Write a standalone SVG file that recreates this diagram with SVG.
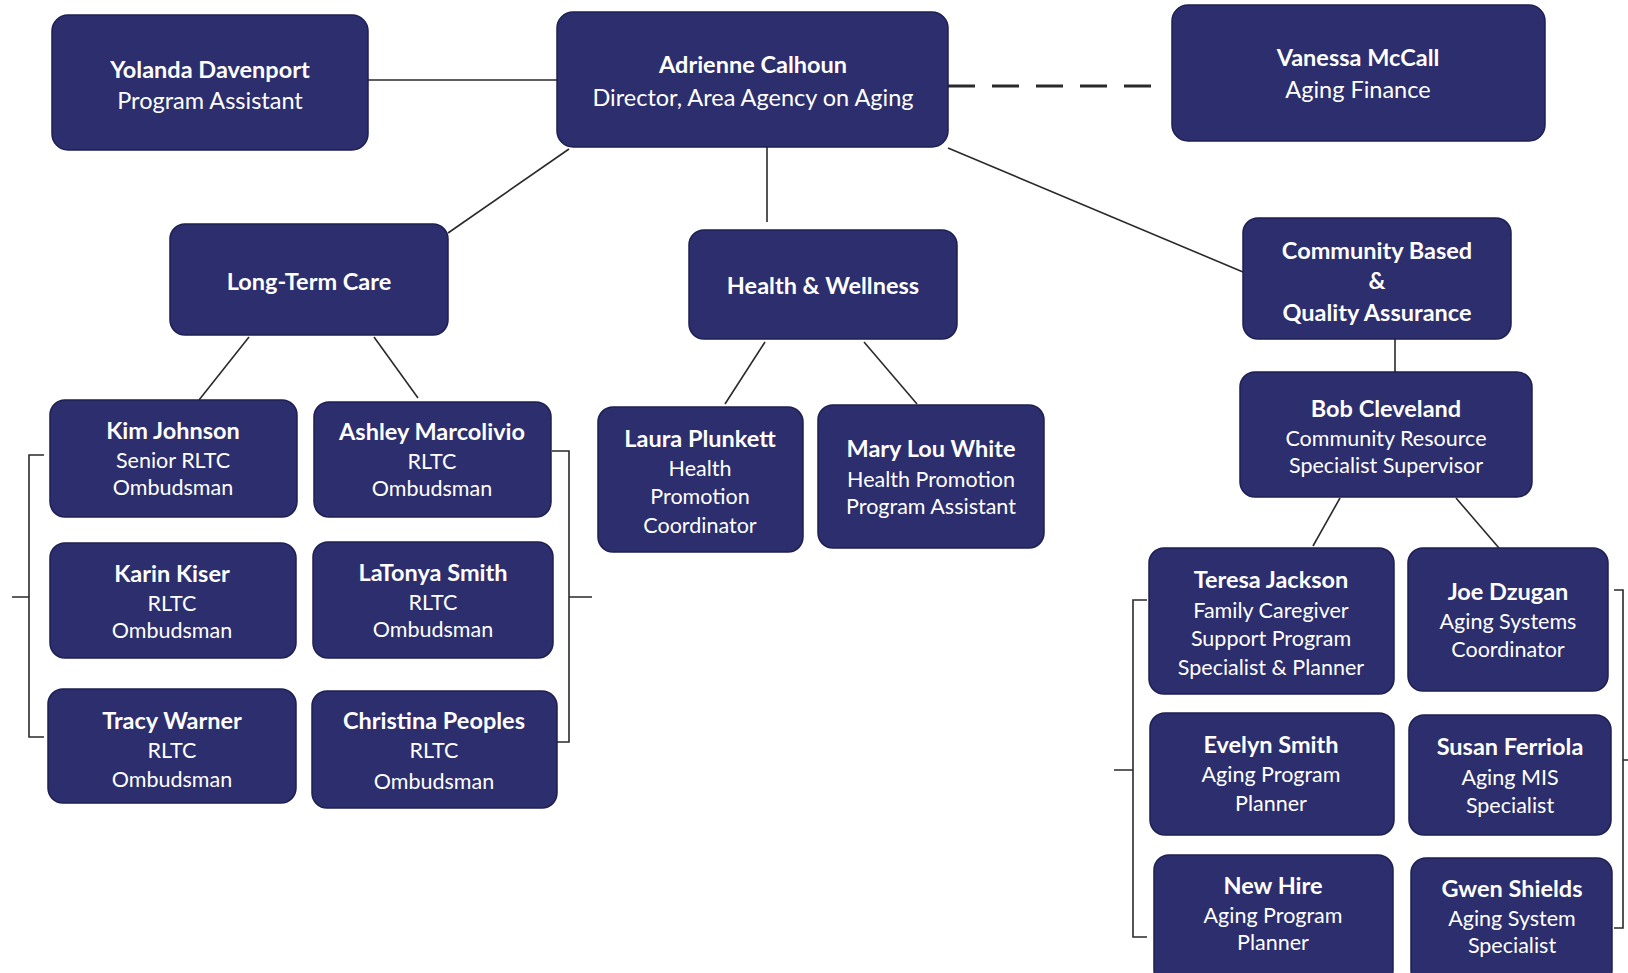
<svg xmlns="http://www.w3.org/2000/svg" width="1628" height="973" viewBox="0 0 1628 973">
<style>
.box{fill:#2c2e6d;stroke:#1e1f52;stroke-width:1.5}
.n{font-family:Lato,"Open Sans",sans-serif;font-weight:bold;font-size:23.5px;fill:#ffffff;text-anchor:middle}
.t{font-family:Lato,"Open Sans",sans-serif;font-size:21.5px;fill:#ffffff;text-anchor:middle}
.tl{font-family:Lato,"Open Sans",sans-serif;font-size:23.5px;fill:#ffffff;text-anchor:middle}
.c{fill:none;stroke:#2a2a2a;stroke-width:1.6}
.d{fill:none;stroke:#2a2a2a;stroke-width:3.2;stroke-dasharray:27 17}
</style>
<rect width="1628" height="973" fill="#ffffff"/>
<g id="connectors">
<line class="c" x1="368" y1="80" x2="557" y2="80"/>
<line class="d" x1="948" y1="86" x2="1153" y2="86"/>
<line class="c" x1="569" y1="149" x2="448" y2="233"/>
<line class="c" x1="767" y1="147" x2="767" y2="222"/>
<line class="c" x1="948" y1="148" x2="1243" y2="272"/>
<line class="c" x1="249" y1="337" x2="199" y2="400"/>
<line class="c" x1="374" y1="337" x2="418" y2="398"/>
<line class="c" x1="765" y1="342" x2="725" y2="404"/>
<line class="c" x1="864" y1="342" x2="917" y2="404"/>
<line class="c" x1="1395" y1="339" x2="1395" y2="372"/>
<line class="c" x1="1340" y1="498" x2="1313" y2="546"/>
<line class="c" x1="1456" y1="498" x2="1499" y2="548"/>
<path class="c" d="M44 455 H29 V737 H44 M29 597 H12"/>
<path class="c" d="M552 451 H569 V742 H552 M569 597 H592"/>
<path class="c" d="M1147 600 H1133 V937 H1147 M1133 770 H1114"/>
<path class="c" d="M1614 590 H1623 V928 H1614 M1623 760 H1630"/>
</g>
<g id="yolanda"><rect class="box" x="52" y="15" width="316" height="135" rx="16"/>
<text class="n" x="210" y="78">Yolanda Davenport</text><text class="tl" x="210" y="109">Program Assistant</text></g>
<g id="adrienne"><rect class="box" x="557" y="12" width="391" height="135" rx="16"/>
<text class="n" x="753" y="73">Adrienne Calhoun</text><text class="tl" x="753" y="106">Director, Area Agency on Aging</text></g>
<g id="vanessa"><rect class="box" x="1172" y="5" width="373" height="136" rx="16"/>
<text class="n" x="1358" y="66">Vanessa McCall</text><text class="tl" x="1358" y="98">Aging Finance</text></g>
<g id="ltc"><rect class="box" x="170" y="224" width="278" height="111" rx="15"/>
<text class="n" x="309" y="290">Long-Term Care</text></g>
<g id="hw"><rect class="box" x="689" y="230" width="268" height="109" rx="15"/>
<text class="n" x="823" y="294">Health &amp; Wellness</text></g>
<g id="cbqa"><rect class="box" x="1243" y="218" width="268" height="121" rx="15"/>
<text class="n" x="1377" y="259">Community Based</text><text class="n" x="1377" y="289">&amp;</text><text class="n" x="1377" y="321">Quality Assurance</text></g>
<g id="kim"><rect class="box" x="50" y="400" width="247" height="117" rx="15"/>
<text class="n" x="173" y="439">Kim Johnson</text><text class="t" x="173" y="468">Senior RLTC</text><text class="t" x="173" y="495">Ombudsman</text></g>
<g id="ashley"><rect class="box" x="314" y="402" width="237" height="115" rx="15"/>
<text class="n" x="432" y="440">Ashley Marcolivio</text><text class="t" x="432" y="469">RLTC</text><text class="t" x="432" y="496">Ombudsman</text></g>
<g id="karin"><rect class="box" x="50" y="543" width="246" height="115" rx="15"/>
<text class="n" x="172" y="582">Karin Kiser</text><text class="t" x="172" y="611">RLTC</text><text class="t" x="172" y="638">Ombudsman</text></g>
<g id="latonya"><rect class="box" x="313" y="542" width="240" height="116" rx="15"/>
<text class="n" x="433" y="581">LaTonya Smith</text><text class="t" x="433" y="610">RLTC</text><text class="t" x="433" y="637">Ombudsman</text></g>
<g id="tracy"><rect class="box" x="48" y="689" width="248" height="114" rx="15"/>
<text class="n" x="172" y="729">Tracy Warner</text><text class="t" x="172" y="758">RLTC</text><text class="t" x="172" y="787">Ombudsman</text></g>
<g id="christina"><rect class="box" x="312" y="691" width="245" height="117" rx="15"/>
<text class="n" x="434" y="729">Christina Peoples</text><text class="t" x="434" y="758">RLTC</text><text class="t" x="434" y="789">Ombudsman</text></g>
<g id="laura"><rect class="box" x="598" y="407" width="205" height="145" rx="15"/>
<text class="n" x="700" y="447">Laura Plunkett</text><text class="t" x="700" y="476">Health</text><text class="t" x="700" y="504">Promotion</text><text class="t" x="700" y="533">Coordinator</text></g>
<g id="marylou"><rect class="box" x="818" y="405" width="226" height="143" rx="15"/>
<text class="n" x="931" y="457">Mary Lou White</text><text class="t" x="931" y="487">Health Promotion</text><text class="t" x="931" y="514">Program Assistant</text></g>
<g id="bob"><rect class="box" x="1240" y="372" width="292" height="125" rx="15"/>
<text class="n" x="1386" y="417">Bob Cleveland</text><text class="t" x="1386" y="446">Community Resource</text><text class="t" x="1386" y="473">Specialist Supervisor</text></g>
<g id="teresa"><rect class="box" x="1149" y="548" width="245" height="146" rx="15"/>
<text class="n" x="1271" y="588">Teresa Jackson</text><text class="t" x="1271" y="618">Family Caregiver</text><text class="t" x="1271" y="646">Support Program</text><text class="t" x="1271" y="675">Specialist &amp; Planner</text></g>
<g id="joe"><rect class="box" x="1408" y="548" width="200" height="143" rx="15"/>
<text class="n" x="1508" y="600">Joe Dzugan</text><text class="t" x="1508" y="629">Aging Systems</text><text class="t" x="1508" y="657">Coordinator</text></g>
<g id="evelyn"><rect class="box" x="1150" y="713" width="244" height="122" rx="15"/>
<text class="n" x="1271" y="753">Evelyn Smith</text><text class="t" x="1271" y="782">Aging Program</text><text class="t" x="1271" y="811">Planner</text></g>
<g id="susan"><rect class="box" x="1409" y="715" width="202" height="120" rx="15"/>
<text class="n" x="1510" y="755">Susan Ferriola</text><text class="t" x="1510" y="785">Aging MIS</text><text class="t" x="1510" y="813">Specialist</text></g>
<g id="newhire"><rect class="box" x="1154" y="855" width="239" height="130" rx="15"/>
<text class="n" x="1273" y="894">New Hire</text><text class="t" x="1273" y="923">Aging Program</text><text class="t" x="1273" y="950">Planner</text></g>
<g id="gwen"><rect class="box" x="1411" y="858" width="201" height="127" rx="15"/>
<text class="n" x="1512" y="897">Gwen Shields</text><text class="t" x="1512" y="926">Aging System</text><text class="t" x="1512" y="953">Specialist</text></g>
</svg>
